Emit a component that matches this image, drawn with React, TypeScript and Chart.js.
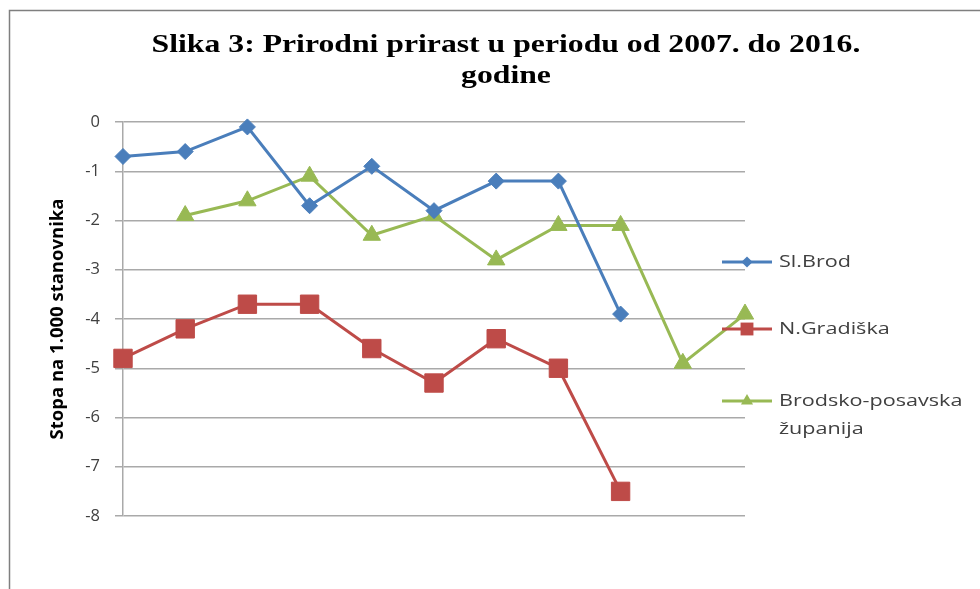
import React, { useEffect, useRef } from "react";
import { Chart, registerables } from "chart.js";

Chart.register(...registerables);

// ---- data ----
const categories = ["2006", "2007", "2008", "2009", "2010", "2011", "2012", "2013", "2014", "2015", "2016"];
const seriesNames = ["Sl.Brod", "N.Gradiška", "Brodsko-posavska županija"];
const legendLines = [["Sl.Brod"], ["N.Gradiška"], ["Brodsko-posavska", "županija"]];
const slBrod = [-0.7, -0.6, -0.1, -1.7, -0.9, -1.8, -1.2, -1.2, -3.9, null, null];
const nGradiska = [-4.8, -4.2, -3.7, -3.7, -4.6, -5.3, -4.4, -5.0, -7.5, null, null];
const brodskoPosavska = [null, -1.9, -1.6, -1.1, -2.3, -1.9, -2.8, -2.1, -2.1, -4.9, -3.9];
const yMin = -8;
const yMax = 0;
const yStep = 1;
const titleLines = ["Slika 3: Prirodni prirast u periodu od 2007. do 2016.", "godine"];
const yAxisTitle = "Stopa na 1.000 stanovnika";

const BLUE = "#4a7ebb";
const RED = "#be4b48";
const GREEN = "#98b954";
const GRID = "#a9a9a9";

const framePlugin = {
  id: "frame",
  beforeDraw(chart: any) {
    const ctx = chart.ctx;
    ctx.save();
    ctx.fillStyle = "#ffffff";
    ctx.fillRect(0, 0, chart.width, chart.height);
    ctx.strokeStyle = "#7f7f7f";
    ctx.lineWidth = 1.5;
    ctx.strokeRect(9.5, 10.5, chart.width + 20, chart.height + 20);
    ctx.restore();
  },
};

const titlePlugin = {
  id: "customTitle",
  afterDraw(chart: any) {
    const ctx = chart.ctx;
    ctx.save();
    ctx.fillStyle = "#000000";
    ctx.font = "bold 26px 'Liberation Serif', serif";
    ctx.textAlign = "center";
    ctx.textBaseline = "alphabetic";
    ctx.translate(506, 0);
    ctx.scale(1.22, 1);
    ctx.fillText(titleLines[0], 0, 52);
    ctx.fillText(titleLines[1], 0, 83);
    ctx.restore();
  },
};

const legendPlugin = {
  id: "customLegend",
  afterDatasetsDraw(chart: any) {
    const ctx = chart.ctx;
    const right = chart.chartArea.right;
    const rows = [262, 329, 401];
    ctx.save();
    chart.data.datasets.forEach((ds: any, i: number) => {
      const y = rows[i];
      const x0 = right - 23;
      const x1 = right + 27;
      ctx.strokeStyle = ds.borderColor;
      ctx.lineWidth = 3;
      ctx.beginPath();
      ctx.moveTo(x0, y);
      ctx.lineTo(x1, y);
      ctx.stroke();
      ctx.fillStyle = ds.pointBackgroundColor;
      const cx = (x0 + x1) / 2;
      const r = ds.pointRadius * 0.7;
      ctx.beginPath();
      if (ds.pointStyle === "rectRot") {
        ctx.moveTo(cx - r, y);
        ctx.lineTo(cx, y - r);
        ctx.lineTo(cx + r, y);
        ctx.lineTo(cx, y + r);
      } else if (ds.pointStyle === "rect") {
        const s = r * Math.SQRT1_2;
        ctx.rect(cx - s, y - s, 2 * s, 2 * s);
      } else {
        const h = r * 0.866;
        ctx.moveTo(cx - h, y + r / 2);
        ctx.lineTo(cx, y - r);
        ctx.lineTo(cx + h, y + r / 2);
      }
      ctx.closePath();
      ctx.fill();
      ctx.fillStyle = "#404040";
      ctx.font = "17px 'Open Sans', sans-serif";
      ctx.textAlign = "left";
      ctx.textBaseline = "middle";
      legendLines[i].forEach((t, k) => {
        ctx.save();
        ctx.translate(x1 + 7, y + k * 28);
        ctx.scale(1.27, 1);
        ctx.fillText(t, 0, 0);
        ctx.restore();
      });
    });
    ctx.restore();
  },
};

export default function App() {
  const ref = useRef<HTMLCanvasElement | null>(null);
  useEffect(() => {
    if (!ref.current) return;
    const mk = (label: string, data: any[], color: string, style: string, r: number) => ({
      label,
      data,
      borderColor: color,
      backgroundColor: color,
      pointBackgroundColor: color,
      pointBorderColor: color,
      pointStyle: style,
      pointRadius: r,
      pointBorderWidth: 1,
      borderWidth: 3,
      tension: 0,
      spanGaps: false,
      clip: false,
    });
    const chart = new Chart(ref.current, {
      type: "line",
      data: {
        labels: categories,
        datasets: [
          mk(seriesNames[0], slBrod, BLUE, "rectRot", 8),
          mk(seriesNames[1], nGradiska, RED, "rect", 13),
          mk(seriesNames[2], brodskoPosavska, GREEN, "triangle", 10),
        ] as any,
      },
      options: {
        animation: false,
        responsive: false,
        maintainAspectRatio: false,
        layout: { padding: { left: 43, top: 122, right: 235, bottom: 73 } },
        plugins: {
          legend: { display: false },
          title: { display: false },
          tooltip: { enabled: false },
        },
        scales: {
          x: { type: "category", display: false, offset: false },
          y: {
            min: yMin,
            max: yMax,
            ticks: {
              stepSize: yStep,
              padding: 15,
              color: "#404040",
              font: { family: "'Open Sans', sans-serif", size: 16.5 },
            },
            grid: { color: GRID, lineWidth: 1.5, tickLength: 8, tickColor: GRID },
            border: { display: true, color: GRID, width: 1.5 },
            title: {
              display: true,
              text: yAxisTitle,
              color: "#000000",
              font: { family: "'Open Sans', sans-serif", size: 18.5, weight: "bold" },
            },
            afterFit: (s: any) => {
              s.width = 80;
            },
          },
        },
      },
      plugins: [framePlugin, titlePlugin, legendPlugin],
    });
    return () => chart.destroy();
  }, []);
  return (
    <div style={{ position: "fixed", left: 0, top: 0, width: 980, height: 589 }}>
      <canvas ref={ref} width={980} height={589} style={{ display: "block" }} />
    </div>
  );
}
